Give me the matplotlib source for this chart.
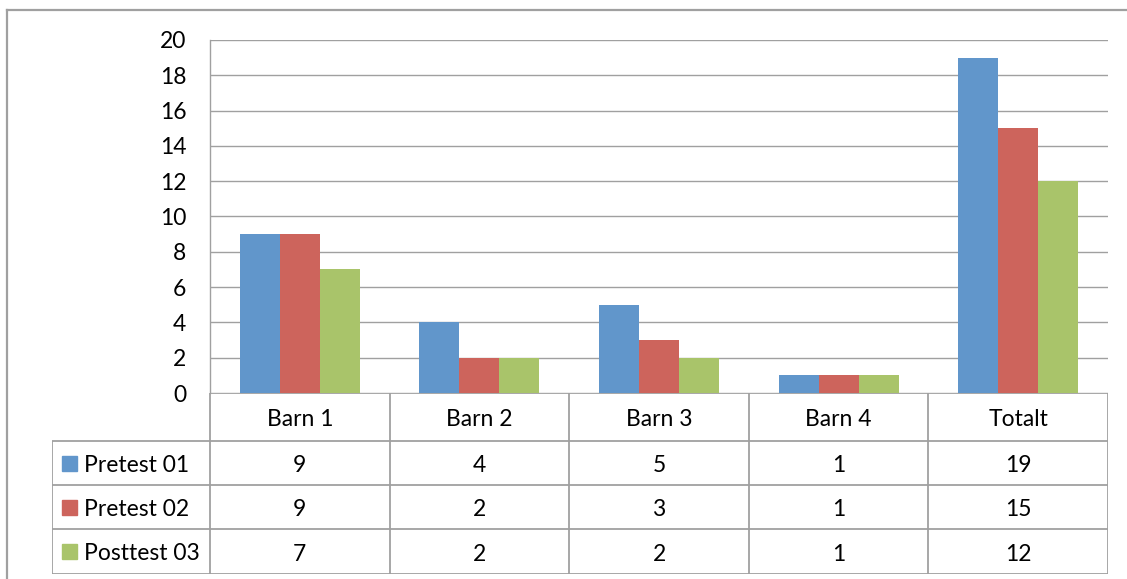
import numpy as np
import matplotlib.pyplot as plt
from matplotlib.patches import Rectangle

plt.rcParams['font.family'] = ['Lato', 'DejaVu Sans']

categories = ["Barn 1", "Barn 2", "Barn 3", "Barn 4", "Totalt"]
series_names = ["Pretest 01", "Pretest 02", "Posttest 03"]
pretest_01 = [9, 4, 5, 1, 19]
pretest_02 = [9, 2, 3, 1, 15]
posttest_03 = [7, 2, 2, 1, 12]
colors = ["#6196CB", "#CD645C", "#A9C46A"]
y_ticks = [0, 2, 4, 6, 8, 10, 12, 14, 16, 18, 20]

series = [pretest_01, pretest_02, posttest_03]
grid_col = "#A0A0A0"
fs = 16.5
W, H = 1127, 579

fig = plt.figure(figsize=(W / 100, H / 100), dpi=100)


def fx(px):
    return px / W


def fy(py):
    return 1 - py / H


# outer chart frame
fig.add_artist(plt.Line2D([fx(7), fx(7)], [fy(10), 0], color=grid_col, lw=1.6))
fig.add_artist(plt.Line2D([fx(7), 1], [fy(10), fy(10)], color=grid_col, lw=1.6))

# bar area
ax = fig.add_axes([fx(210), fy(393), fx(1108) - fx(210), fy(40) - fy(393)])
x = np.arange(len(categories)) + 0.5
bw = 0.223
for i, (vals, col) in enumerate(zip(series, colors)):
    ax.bar(x + (i - 1) * bw, vals, bw, color=col, zorder=3, label=series_names[i])
ax.set_xlim(0, len(categories))
ax.set_ylim(0, 20)
ax.set_yticks(y_ticks)
ax.set_xticks([])
ax.yaxis.grid(True, color=grid_col, lw=1.0, zorder=0)
for s in ["top", "right", "bottom"]:
    ax.spines[s].set_visible(False)
ax.spines["left"].set_color(grid_col)
ax.spines["left"].set_linewidth(1.0)
ax.tick_params(axis="y", length=0, pad=17, labelsize=fs, colors="black")

# data table below the bars
tab = fig.add_axes([fx(52), fy(574), fx(1108) - fx(52), fy(393) - fy(574)])
left = (52 - 210) / ((1108 - 210) / len(categories))
tab.set_xlim(left, len(categories))
tab.set_ylim(574 - 393, 0)
tab.axis("off")
row_edges = [0, 48, 92, 136, 181]
lk = dict(color=grid_col, lw=1.3, solid_capstyle="butt")
# header row
for c in range(len(categories) + 1):
    tab.plot([c, c], [row_edges[0], row_edges[-1]], **lk)
tab.plot([left, left], [row_edges[1], row_edges[-1]], **lk)
tab.plot([0, len(categories)], [row_edges[0], row_edges[0]], **lk)
for r in row_edges[1:]:
    tab.plot([left, len(categories)], [r, r], **lk)
for c, name in enumerate(categories):
    tab.text(c + 0.5, (row_edges[0] + row_edges[1]) / 2 + 3, name,
             ha="center", va="center", fontsize=fs)
for i, (vals, col, name) in enumerate(zip(series, colors, series_names)):
    yc = (row_edges[i + 1] + row_edges[i + 2]) / 2
    tab.add_patch(Rectangle((left + 0.055, yc - 7.5), 0.083, 15, color=col))
    tab.text(left + 0.18, yc + 2, name, ha="left", va="center", fontsize=fs)
    for c, v in enumerate(vals):
        tab.text(c + 0.5, yc + 3, str(v), ha="center", va="center", fontsize=fs)

fig.savefig("out.png", dpi=100)
